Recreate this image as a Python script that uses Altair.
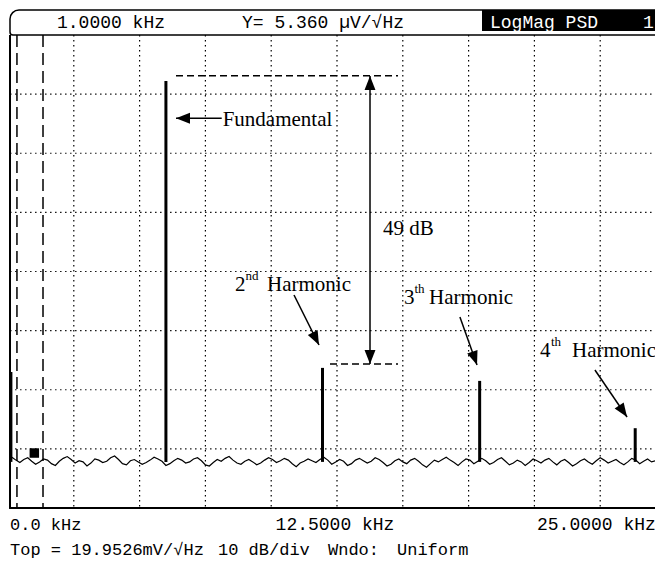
import altair as alt
import numpy as np
import pandas as pd

# ---------------- data ----------------
# spectrum noise floor, dBV/rtHz, sampled every 0.15 kHz starting at 0.15 kHz
noise_db = [
    -105.4, -105.9, -106.3, -105.8, -105.5, -106.1, -106.6, -106.2, -105.7, -105.9,
    -106.5, -106.8, -106.1, -105.6, -105.3, -105.8, -106.4, -106.0, -106.2, -106.9,
    -106.4, -105.7, -105.9, -106.3, -106.1, -105.5, -105.2, -105.8, -106.5, -106.7,
    -106.0, -105.8, -106.2, -106.6, -106.3, -105.9, -105.4, -105.7, -106.1, -106.8,
    -106.5, -106.0, -105.6, -105.9, -106.4, -106.2, -105.7, -105.5, -106.0, -106.7,
    -106.9, -106.3, -105.8, -106.1, -105.6, -105.3, -105.9, -106.4, -106.6, -106.1,
    -105.8, -106.2, -106.7, -106.4, -105.9, -105.5, -105.8, -106.3, -106.0, -105.6,
    -105.9, -106.5, -107.0, -106.4, -106.1, -105.7, -106.0, -106.3, -105.8, -105.4,
    -105.9, -106.6, -106.2, -105.8, -106.1, -106.8, -106.5, -105.9, -105.6, -106.0,
    -106.4, -106.1, -105.5, -105.8, -106.3, -106.9, -106.6, -106.0, -105.7, -106.2,
    -106.5, -105.9, -105.6, -106.1, -106.7, -107.1, -106.5, -105.9, -106.2, -105.8,
    -105.4, -105.9, -106.3, -106.8, -106.2, -105.7, -105.9, -106.5, -106.1, -105.6,
    -106.0, -106.6, -106.3, -105.8, -105.5, -106.1, -106.7, -106.4, -105.9, -106.2,
    -106.8, -106.3, -105.7, -106.0, -106.4, -105.9, -105.6, -106.2, -106.7, -106.1,
    -105.8, -106.3, -106.9, -106.5, -106.0, -105.7, -106.2, -106.6, -106.0, -105.5,
    -105.9, -106.4, -106.1, -105.8, -106.3, -106.7, -106.2, -105.6, -105.9, -106.5,
    -106.1, -105.7, -106.2, -106.0,
]
noise_step_khz = 0.15

# spectral lines: DC, fundamental, 2nd, 3rd, 4th harmonic
peak_khz = [0.11, 6.0, 11.95, 17.92, 23.83]
peak_db = [-91.0, -41.8, -90.3, -92.5, -100.5]
floor_db = -106.2

grid_khz = [2.5, 5.0, 7.5, 10.0, 12.5, 15.0, 17.5, 20.0, 22.5]
grid_db = [-44, -54, -64, -74, -84, -94, -104]
top_db, bottom_db = -34, -114
marker_band_khz = [0.34, 1.33]
marker_khz, marker_db = 1.0, -104.7

# ---------------- scales ----------------
xs = alt.Scale(domain=[-0.304, 24.582], nice=False, zero=False)
ys = alt.Scale(domain=[-123.30, -28.08], nice=False, zero=False)
X = lambda f: alt.X(f, type="quantitative", scale=xs, axis=None)
Y = lambda f: alt.Y(f, type="quantitative", scale=ys, axis=None)
X2 = lambda f: alt.X2(f)
Y2 = lambda f: alt.Y2(f)

freqs = np.round(noise_step_khz * np.arange(1, len(noise_db) + 1), 3)
noise_df = pd.DataFrame({"f": freqs, "db": noise_db})
peaks_df = pd.DataFrame({"f": peak_khz, "db": peak_db, "lo": floor_db})

vgrid = pd.DataFrame({"f": grid_khz, "y1": top_db, "y2": bottom_db})
hgrid = pd.DataFrame({"db": grid_db, "x1": 0.08, "x2": 24.582})

layers = []

layers.append(alt.Chart(vgrid).mark_rule(color="black", strokeWidth=1.2, strokeDash=[1.4, 3.6])
              .encode(x=X("f"), y=Y("y1"), y2=Y2("y2")))
layers.append(alt.Chart(hgrid).mark_rule(color="black", strokeWidth=1.2, strokeDash=[1.4, 3.6])
              .encode(y=Y("db"), x=X("x1"), x2=X2("x2")))

# frame
frame_l = pd.DataFrame({"f": [0.076], "y1": [top_db], "y2": [bottom_db]})
layers.append(alt.Chart(frame_l).mark_rule(color="black", strokeWidth=2)
              .encode(x=X("f"), y=Y("y1"), y2=Y2("y2")))
frame_b = pd.DataFrame({"db": [bottom_db], "x1": [0.04], "x2": [24.582]})
layers.append(alt.Chart(frame_b).mark_rule(color="black", strokeWidth=2)
              .encode(y=Y("db"), x=X("x1"), x2=X2("x2")))

# marker band dashed verticals
band = pd.DataFrame({"f": marker_band_khz, "y1": top_db, "y2": bottom_db})
layers.append(alt.Chart(band).mark_rule(color="black", strokeWidth=1.5, strokeDash=[12, 6])
              .encode(x=X("f"), y=Y("y1"), y2=Y2("y2")))

# noise trace
layers.append(alt.Chart(noise_df).mark_line(color="black", strokeWidth=1.2)
              .encode(x=X("f"), y=Y("db")))
# spectral lines
layers.append(alt.Chart(peaks_df).mark_rule(color="black", strokeWidth=3)
              .encode(x=X("f"), y=Y("db"), y2=Y2("lo")))
# marker
layers.append(alt.Chart(pd.DataFrame({"f": [marker_khz], "db": [marker_db]}))
              .mark_point(shape="square", filled=True, color="black", size=90, opacity=1)
              .encode(x=X("f"), y=Y("db")))

# ---------------- annotations (in kHz / dB) ----------------
dash_df = pd.DataFrame({"x1": [6.383, 12.234], "x2": [14.818, 14.818], "db": [-40.88, -89.64]})
layers.append(alt.Chart(dash_df).mark_rule(color="black", strokeWidth=1.5, strokeDash=[7, 4])
              .encode(y=Y("db"), x=X("x1"), x2=X2("x2")))

arrows = pd.DataFrame({
    "x1": [8.12, 13.754, 10.866, 17.17, 22.30],
    "y1": [-48.09, -40.93, -77.97, -81.70, -90.66],
    "x2": [6.383, 13.754, 11.816, 17.82, 23.52],
    "y2": [-48.09, -89.64, -86.43, -89.81, -98.61],
})
layers.append(alt.Chart(arrows).mark_rule(color="black", strokeWidth=1.5)
              .encode(x=X("x1"), y=Y("y1"), x2=X2("x2"), y2=Y2("y2")))

heads = pd.DataFrame({
    "f": [6.383, 13.754, 13.754, 11.816, 17.82, 23.52],
    "db": [-48.09, -40.93, -89.64, -86.43, -89.81, -98.61],
    "ang": [270, 0, 180, 153.4, 160.5, 145.7],
})
layers.append(alt.Chart(heads).mark_point(shape="M0,0L0.78,2L-0.78,2Z", filled=True, color="black",
                                          size=196, opacity=1, strokeWidth=0)
              .encode(x=X("f"), y=Y("db"), angle=alt.Angle("ang:Q", scale=None)))

SERIF = "Liberation Serif"
labels = pd.DataFrame({
    "f": [8.157, 8.625, 9.84, 15.05, 16.00, 20.21, 21.43, 14.25],
    "db": [-49.39, -77.30, -77.30, -79.50, -79.50, -88.46, -88.46, -67.9],
    "t": ["Fundamental", "2", "Harmonic", "3", "Harmonic", "4", "Harmonic", "49 dB"],
})
layers.append(alt.Chart(labels).mark_text(font=SERIF, fontSize=21, align="left", baseline="alphabetic",
                                          color="black")
              .encode(x=X("f"), y=Y("db"), text="t:N"))
sups = pd.DataFrame({
    "f": [9.02, 15.44, 20.63],
    "db": [-75.4, -77.6, -86.6],
    "t": ["nd", "th", "th"],
})
layers.append(alt.Chart(sups).mark_text(font=SERIF, fontSize=13, align="left", baseline="alphabetic",
                                        color="black")
              .encode(x=X("f"), y=Y("db"), text="t:N"))

# ---------------- instrument header / footer ----------------
MONO = "Liberation Mono"


def txt(s, px, py, size, color="black", align="left"):
    return (alt.Chart(pd.DataFrame({"t": [s]}))
            .mark_text(font=MONO, fontSize=size, align=align, baseline="alphabetic", color=color)
            .encode(x=alt.value(px), y=alt.value(py), text="t:N"))


one = pd.DataFrame({"k": [0]})
layers.append(alt.Chart(one).mark_rect(fill="white", stroke="black", strokeWidth=1.5,
                                       cornerRadiusTopLeft=9, cornerRadiusBottomLeft=3)
              .encode(x=alt.value(10), x2=alt.value(670), y=alt.value(10), y2=alt.value(35)))
layers.append(alt.Chart(one).mark_rect(fill="black")
              .encode(x=alt.value(482), x2=alt.value(670), y=alt.value(10), y2=alt.value(31)))

layers += [
    txt("1.0000 kHz", 57, 28, 18),
    txt("Y= 5.360 µV/√Hz", 242, 28, 18),
    txt("LogMag PSD", 490, 28, 18, color="white"),
    txt("1", 643, 28, 18, color="white"),
    txt("0.0 kHz", 10, 530, 17),
    txt("12.5000 kHz", 335, 530, 18, align="center"),
    txt("25.0000 kHz", 537, 530, 18),
    txt("Top = 19.9526mV/√Hz", 10, 555, 17),
    txt("10 dB/div", 218, 555, 17),
    txt("Wndo:", 328, 555, 17),
    txt("Uniform", 397, 555, 17),
]

chart = (alt.layer(*layers)
         .properties(width=655, height=563, padding=0, autosize=alt.AutoSizeParams(type="none"),
                     background="white")
         .configure_view(stroke=None))

chart.save("out.html", embed_options={"renderer": "svg", "actions": False})
